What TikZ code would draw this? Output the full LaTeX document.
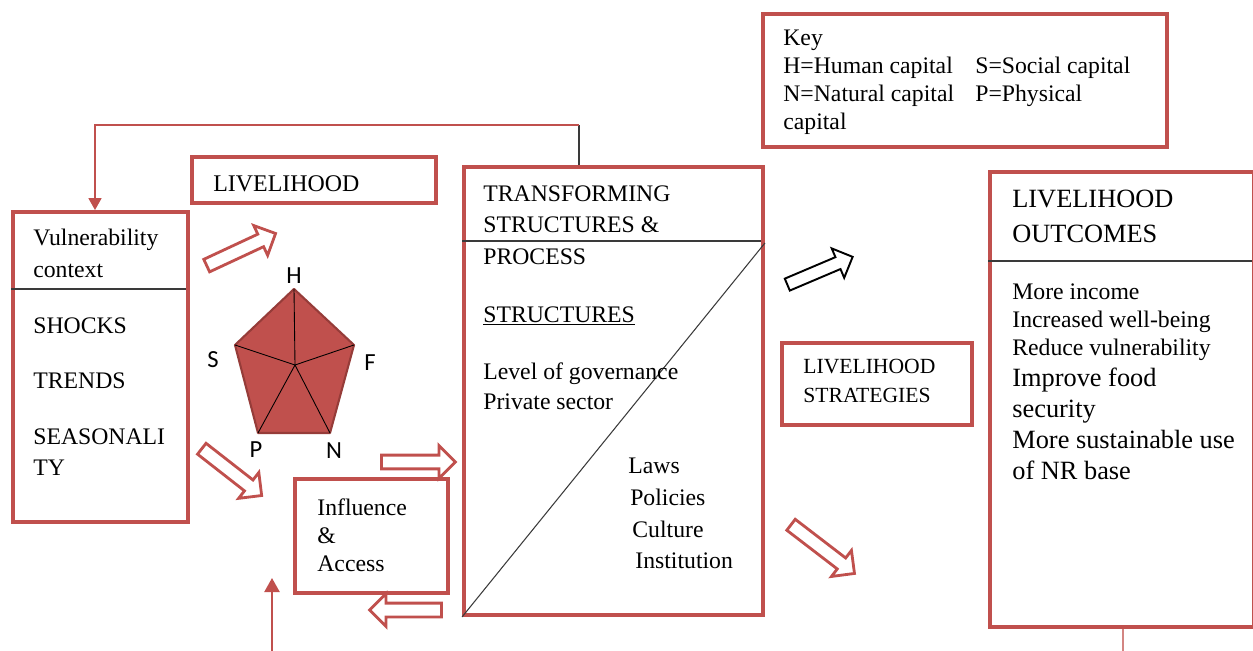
\documentclass[tikz,border=0pt]{standalone}
\usepackage{fontspec}
\setmainfont{Liberation Serif}
\newfontfamily\capfont{Carlito}
\usetikzlibrary{arrows.meta,shapes.arrows,fit}
\definecolor{boxred}{HTML}{C0504D}
\definecolor{pentedge}{HTML}{963C39}
\definecolor{rule}{HTML}{3A3A3A}

\begin{document}
\begin{tikzpicture}[x=0.02cm, y=-0.02cm,
    redbox/.style={draw=boxred, line width=2.2pt, inner sep=0pt},
    txt/.style={anchor=north west, inner sep=0pt, align=left, font=\fontsize{13.5}{18}\selectfont},
    fatarrow/.style={single arrow, draw=boxred, line width=1.6pt, inner xsep=0pt, inner ysep=0.11cm,
      single arrow head extend=0.19cm},
    letter/.style={font=\capfont\fontsize{14}{16}\selectfont, inner sep=0pt},
    divider/.style={draw=rule, line width=0.8pt}]
    \useasboundingbox (0,0) rectangle (1253,651);

    % boxes
    \node[redbox, fit={(13,212) (188,522)}] (vuln) {};
    \node[redbox, fit={(192,157) (436,203)}] (liv) {};
    \node[redbox, fit={(464,167) (763,615)}] (trans) {};
    \node[redbox, fit={(295,479) (448,593)}] (infl) {};
    \node[redbox, fit={(763,14) (1167,147)}] (key) {};
    \node[redbox, fit={(782,343) (972,425)}] (strat) {};
    \node[redbox, fit={(990,172) (1254,627)}] (outc) {};

    \draw[divider] (vuln.north west) ++(0,79) -- ++(175,0);
    \draw[divider] (trans.north west) ++(0,76) -- ++(299,0);
    \draw[rule, line width=0.6pt] (trans.south west) -- (trans.north east |- 0,243);
    \draw[divider] (outc.north west) ++(0,91) -- ++(264,0);

    % texts
    \node[txt] (vulnt) at (33,229) {Vulnerability\\context};
    \node[txt, font=\fontsize{13.5}{17.6}\selectfont] (vulnl) at (33,317)
        {SHOCKS\\[14pt]TRENDS\\[14pt]SEASONALI\\TY};
    \node[txt, font=\fontsize{13.6}{18}\selectfont] (livt) at (213,175) {LIVELIHOOD};
    \node[txt] (transt) at (483,185) {TRANSFORMING\\STRUCTURES \&\\PROCESS};
    \node[txt] (struct) at (483,306) {\underline{STRUCTURES}};
    \node[txt, font=\fontsize{13.5}{17.6}\selectfont] (gov) at (483,362) {Level of governance\\Private sector};
    \node[txt] (laws) at (628,458)
        {Laws\\\hspace*{1.1pt}Policies\\\hspace*{2.3pt}Culture\\\hspace*{4pt}Institution};
    \node[txt, font=\fontsize{13.5}{16.1}\selectfont] (inflt) at (317,498) {Influence\\\&\\Access};
    \node[txt, font=\fontsize{13.5}{15.9}\selectfont] (keyt) at (783,30)
        {Key\\\makebox[3.84cm][l]{H=Human capital}S=Social capital\\
         \makebox[3.84cm][l]{N=Natural capital}P=Physical\\capital};
    \node[txt, font=\fontsize{12.3}{16.4}\selectfont] (stratt) at (803,359) {LIVELIHOOD\\STRATEGIES};
    \node[txt, font=\fontsize{15}{19.8}\selectfont] (outct) at (1012,190) {LIVELIHOOD\\OUTCOMES};
    \node[txt, font=\fontsize{13.5}{16.2}\selectfont] (outa) at (1012,283)
        {More income\\Increased well-being\\Reduce vulnerability};
    \node[txt, font=\fontsize{15}{17.5}\selectfont] (outb) at (1012,368)
        {Improve food\\security\\More sustainable use\\of NR base};

    % capital pentagon
    \coordinate (h) at (294,289);
    \coordinate (f) at (354,345);
    \coordinate (n) at (330,433);
    \coordinate (p) at (258,433);
    \coordinate (s) at (235,345);
    \coordinate (c) at (295,365);
    \filldraw[fill=boxred, draw=pentedge, line width=1.2pt, line join=round] (h) -- (f) -- (n) -- (p) -- (s) -- cycle;
    \foreach \v in {h,f,n,p,s}
        \draw[black, line width=0.5pt] (c) -- (\v);
    \node[letter] (hl) at (294,276) {H};
    \node[letter] (sl) at (213,360) {S};
    \node[letter] (fl) at (370,363) {F};
    \node[letter] (pl) at (256,450) {P};
    \node[letter] (nl) at (334,451) {N};

    % block arrows
    \node[fatarrow, minimum height=1.52cm, rotate=25] (a1) at (238,251) {};
    \node[fatarrow, minimum height=1.52cm, rotate=-38] (a2) at (229,470) {};
    \node[fatarrow, minimum height=1.48cm] (a3) at (415,462) {};
    \node[fatarrow, minimum height=1.44cm, rotate=180] (a4) at (409,610) {};
    \node[fatarrow, draw=black, line width=1.1pt, minimum height=1.42cm, rotate=23] (a5) at (817,272) {};
    \node[fatarrow, minimum height=1.6cm, rotate=-37.5] (a6) at (820,547) {};

    % feedback line
    \coordinate (fbtop) at (579,125);
    \coordinate (fbleft) at (95,125);
    \draw[rule, line width=0.8pt] (trans.north -| fbtop) -- (fbtop);
    \draw[boxred, line width=1pt, -{Triangle[width=0.26cm, length=0.24cm]}] (fbtop) -- (fbleft) -- (fbleft |- vuln.north);

    \coordinate (infoot) at (272,651);
    \coordinate (intip) at (272,578);
    \draw[boxred, line width=1.3pt, -{Triangle[width=0.3cm, length=0.28cm]}] (infoot) -- (intip);

    \coordinate (outfoot) at (1123,651);
    \draw[boxred!70, line width=1pt] (outfoot |- outc.south) -- (outfoot);
\end{tikzpicture}
\end{document}
